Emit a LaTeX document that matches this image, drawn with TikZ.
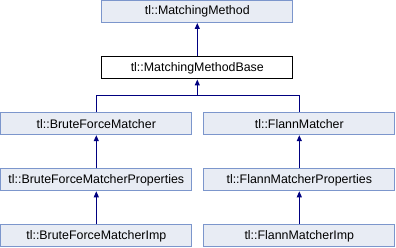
\documentclass[tikz,border=0pt]{standalone}
\usepackage{fontspec}
\setmainfont{Liberation Sans}
\usetikzlibrary{arrows.meta}
\definecolor{boxfill}{RGB}{232,236,244}
\definecolor{boxline}{RGB}{124,150,204}
\definecolor{edgecol}{RGB}{0,0,128}
\begin{document}
\begin{tikzpicture}[x=1pt,y=-1pt,
  cls/.style={draw=boxline, fill=boxfill, line width=1pt, minimum width=191pt, minimum height=22pt, inner sep=0pt, font=\fontsize{12.4}{14}\selectfont},
  cur/.style={cls, draw=black, fill=white},
  link/.style={draw=edgecol, line width=1pt},
  inherit/.style={link, -{Triangle[width=5pt,length=6pt]}}]
\useasboundingbox (0,0) rectangle (396,248);
\node[cls] (mm)   at (197.3,11.5)  {tl::MatchingMethod};
\node[cur] (mmb)  at (197.3,68)    {tl::MatchingMethodBase};
\node[cls] (bfm)  at (96.3,123.7)  {tl::BruteForceMatcher};
\node[cls] (fm)   at (299.3,123.7) {tl::FlannMatcher};
\node[cls] (bfmp) at (96.3,179.8)  {tl::BruteForceMatcherProperties};
\node[cls] (fmp)  at (299.3,179.8) {tl::FlannMatcherProperties};
\node[cls] (bfmi) at (96.3,235.8)  {tl::BruteForceMatcherImp};
\node[cls] (fmi)  at (299.3,235.8) {tl::FlannMatcherImp};
\coordinate (split) at (197.3,95.7);
% inheritance links
\draw[inherit] (mmb.north) -- (mm.south);
\draw[link] (bfm.north) |- (split) -| (fm.north);
\draw[inherit] (split) -- (mmb.south);
\draw[inherit] (bfmp.north) -- (bfm.south);
\draw[inherit] (fmp.north) -- (fm.south);
\draw[inherit] (bfmi.north) -- (bfmp.south);
\draw[inherit] (fmi.north) -- (fmp.south);
\end{tikzpicture}
\end{document}
